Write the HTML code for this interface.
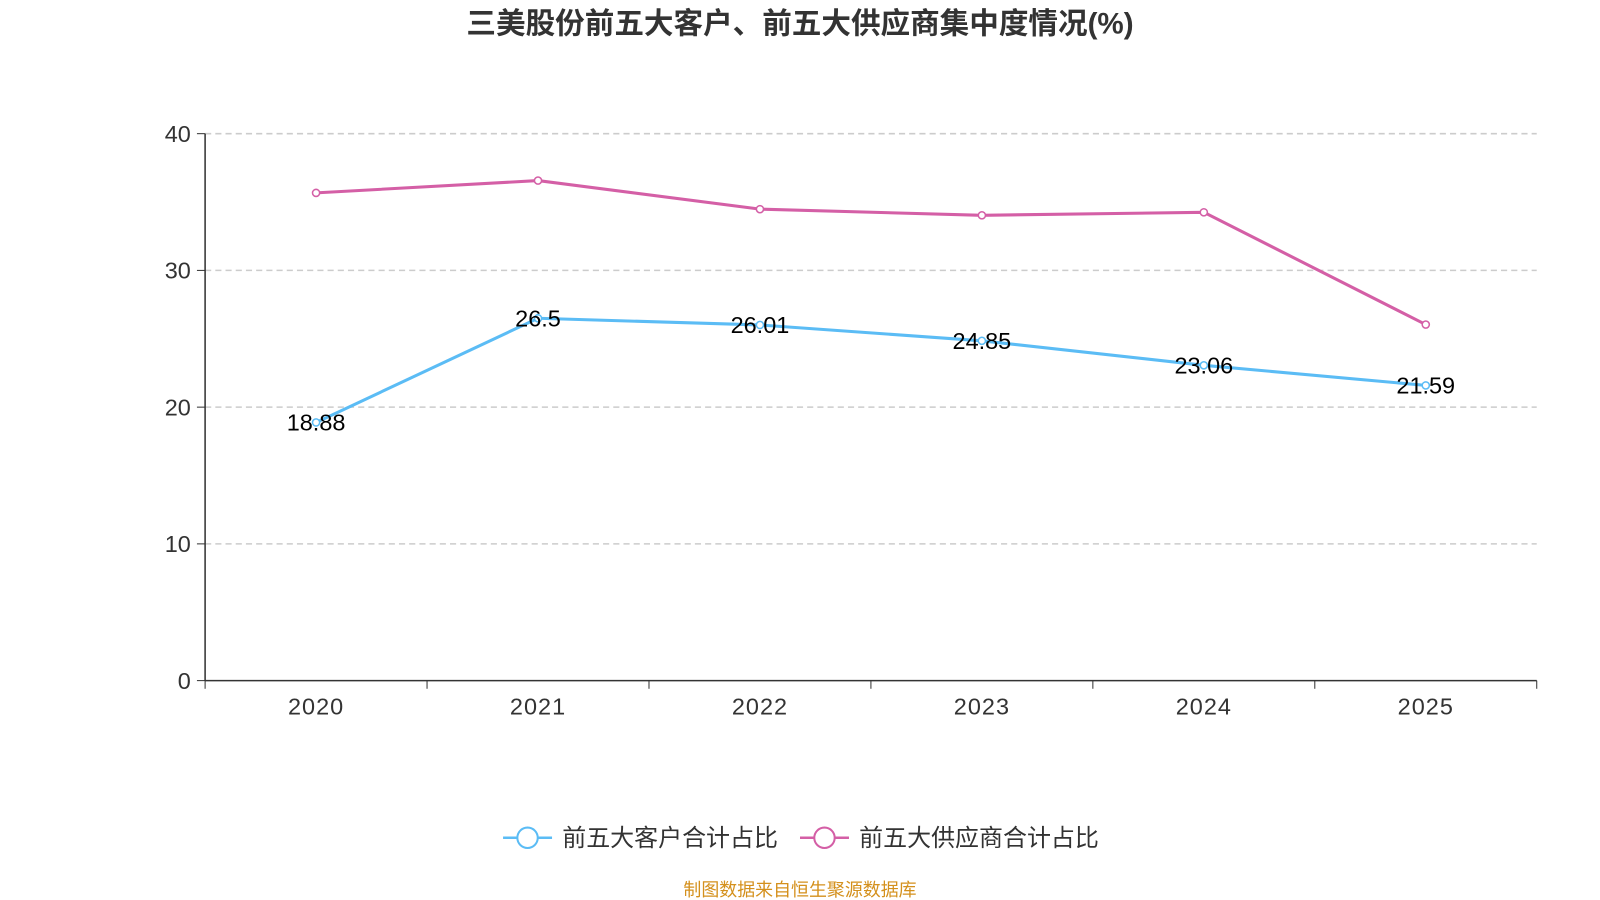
<!DOCTYPE html>
<html><head><meta charset="utf-8">
<style>
body{margin:0;background:#fff;font-family:"Liberation Sans","Noto Sans CJK SC",sans-serif;}
svg{display:block;}
svg text{font-family:"Liberation Sans","Noto Sans CJK SC",sans-serif;}
</style></head>
<body>
<svg id="chart" width="1600" height="900" viewBox="0 0 1568 882" xmlns="http://www.w3.org/2000/svg">
<text x="784" y="33" text-anchor="middle" font-size="29" font-weight="bold" fill="#333">三美股份前五大客户、前五大供应商集中度情况(%)</text>
<g id="grid"></g>
<g id="axes"></g>
<g id="series"></g>
<g>
<g>
<line x1="493" y1="821" x2="541" y2="821" stroke="#5bbcf5" stroke-width="2.5"/>
<circle cx="517" cy="821" r="10" fill="#fff" stroke="#5bbcf5" stroke-width="2"/>
<text x="551" y="829" font-size="23.5" fill="#333">前五大客户合计占比</text>
</g>
<g>
<line x1="784" y1="821" x2="832" y2="821" stroke="#d45fa6" stroke-width="2.5"/>
<circle cx="808" cy="821" r="10" fill="#fff" stroke="#d45fa6" stroke-width="2"/>
<text x="842" y="829" font-size="23.5" fill="#333">前五大供应商合计占比</text>
</g>
</g>
<text x="784" y="878" text-anchor="middle" font-size="17.6" fill="#d4901c">制图数据来自恒生聚源数据库</text>
</svg>
<script>
const categories=["2020","2021","2022","2023","2024","2025"];
const customers=[18.88,26.5,26.01,24.85,23.06,21.59];
const suppliers=[35.67,36.57,34.48,34.03,34.25,26.04];
const yTicks=[0,10,20,30,40];
const NS="http://www.w3.org/2000/svg";
const x0=201,x1=1506,y0=667,y1=131,ymax=40;
const bw=(x1-x0)/categories.length;
const xs=i=>x0+bw*(i+0.5);
const ys=v=>y0-(v/ymax)*(y0-y1);
function mk(t,a,p){const e=document.createElementNS(NS,t);for(const k in a)e.setAttribute(k,a[k]);p.appendChild(e);return e;}
const grid=document.getElementById('grid'),axes=document.getElementById('axes'),series=document.getElementById('series');
yTicks.forEach(v=>{
 if(v>0){const g=mk('line',{x1:x0,x2:x1,y1:ys(v),y2:ys(v),stroke:'#ccc','stroke-dasharray':'6,4','stroke-width':1.5},grid);
 
 }
 const tk=mk('line',{x1:x0-8,x2:x0,y1:ys(v),y2:ys(v),stroke:'#333'},axes);
 
 
 const t=mk('text',{x:x0-14,y:ys(v)+8,'text-anchor':'end','font-size':23,fill:'#333'},axes);t.textContent=v;
 
 
});
const ya=mk('line',{x1:x0,x2:x0,y1:y1,y2:y0,stroke:'#333','stroke-width':1.5},axes);


const xa=mk('line',{x1:x0,x2:x1,y1:y0,y2:y0,stroke:'#333','stroke-width':1.5},axes);


for(let i=0;i<=categories.length;i++){const l=mk('line',{x1:x0+bw*i,x2:x0+bw*i,y1:y0,y2:y0+8,stroke:'#333'},axes);
 
 }
categories.forEach((c,i)=>{const t=mk('text',{x:xs(i),y:y0+33,'text-anchor':'middle','font-size':23,'letter-spacing':1,fill:'#333'},axes);t.textContent=c;
 
 });
function draw(data,color,name,labels){
 const p=mk('polyline',{points:data.map((v,i)=>xs(i)+','+ys(v)).join(' '),fill:'none',stroke:color,'stroke-width':3},series);
 
 
 data.forEach((v,i)=>{const c=mk('circle',{cx:xs(i),cy:ys(v),r:3.5,fill:'#fff',stroke:color,'stroke-width':1.5},series);
  
  
  if(labels){const t=mk('text',{x:xs(i),y:ys(v)+8,'text-anchor':'middle','font-size':23,fill:'#000'},series);t.textContent=v;
  
  }});
}
draw(suppliers,'#d45fa6','suppliers',false);
draw(customers,'#5bbcf5','customers',true);
</script>
</body></html>
